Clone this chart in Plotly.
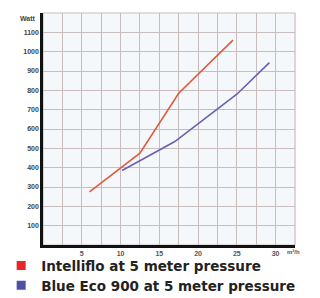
import plotly.graph_objects as go

# Data
intelliflo_flow = [6.0, 12.5, 17.5, 24.5]
intelliflo_watt = [275, 475, 785, 1060]
blueeco_flow = [10.2, 17.0, 25.0, 29.2]
blueeco_watt = [385, 535, 780, 943]

x_grid = [2.5 * i for i in range(1, 14)]
x_labels = [str(int(v)) if v % 5 == 0 else "" for v in x_grid]
y_grid = list(range(100, 1200, 100))
y_labels = [str(v) for v in y_grid]

series_names = ["Intelliflo at 5 meter pressure", "Blue Eco 900 at 5 meter pressure"]
line_colors = ["#e4583c", "#6b5fb4"]
legend_colors = ["#e8262a", "#4b4fa6"]

fig = go.Figure()
for xs, ys, c in [(intelliflo_flow, intelliflo_watt, line_colors[0]),
                  (blueeco_flow, blueeco_watt, line_colors[1])]:
    fig.add_trace(go.Scatter(x=xs, y=ys, mode="lines", line=dict(color=c, width=1.6),
                             showlegend=False, hoverinfo="skip"))
for name, c, lg in zip(series_names, legend_colors, ["legend", "legend2"]):
    fig.add_trace(go.Scatter(x=[None], y=[None], mode="markers", name=name, legend=lg,
                             marker=dict(symbol="square", size=9, color=c)))

legend_font = dict(size=13.5, family="DejaVu Sans", color="#222", weight="bold")
fig.update_layout(
    width=312, height=290,
    margin=dict(l=35, r=25, t=5, b=53, autoexpand=False),
    paper_bgcolor="white",
    plot_bgcolor="#f5f8fb",
    font=dict(family="Liberation Sans", color="#333"),
    xaxis=dict(range=[0, 32.5], tickvals=x_grid, ticktext=x_labels,
               showgrid=True, gridcolor="#c9bcbc", gridwidth=1.2,
               showline=True, linecolor="#111", linewidth=2.5,
               ticks="", tickfont=dict(size=7, family="Liberation Sans", color="#555", weight="bold"),
               zeroline=False, fixedrange=True, automargin=False),
    yaxis=dict(range=[0, 1200], tickvals=y_grid, ticktext=y_labels,
               showgrid=True, gridcolor="#c9bcbc", gridwidth=1.2,
               showline=True, linecolor="#111", linewidth=2.5,
               ticks="", tickfont=dict(size=7, family="Liberation Sans", color="#444", weight="bold"),
               zeroline=False, fixedrange=True, automargin=False),
    legend=dict(x=-0.166, y=-0.022, xanchor="left", yanchor="top", font=legend_font,
                bgcolor="rgba(0,0,0,0)", itemwidth=30),
    legend2=dict(x=-0.166, y=-0.108, xanchor="left", yanchor="top", font=legend_font,
                 bgcolor="rgba(0,0,0,0)", itemwidth=30),
    showlegend=True,
)
fig.add_shape(type="rect", xref="paper", yref="paper", x0=0, y0=0, x1=1, y1=1,
              line=dict(color="#c9bcbc", width=1.2), layer="below")
fig.add_annotation(text="<b>Watt</b>", xref="paper", yref="paper", x=-0.02, y=1.0,
                   xanchor="right", yanchor="top", showarrow=False,
                   font=dict(size=7, color="#444"))
fig.add_annotation(text="<b>m³/h</b>", xref="paper", yref="paper", x=0.995, y=-0.01,
                   xanchor="center", yanchor="top", showarrow=False,
                   font=dict(size=6, color="#555"))
fig.write_html("out.html")
